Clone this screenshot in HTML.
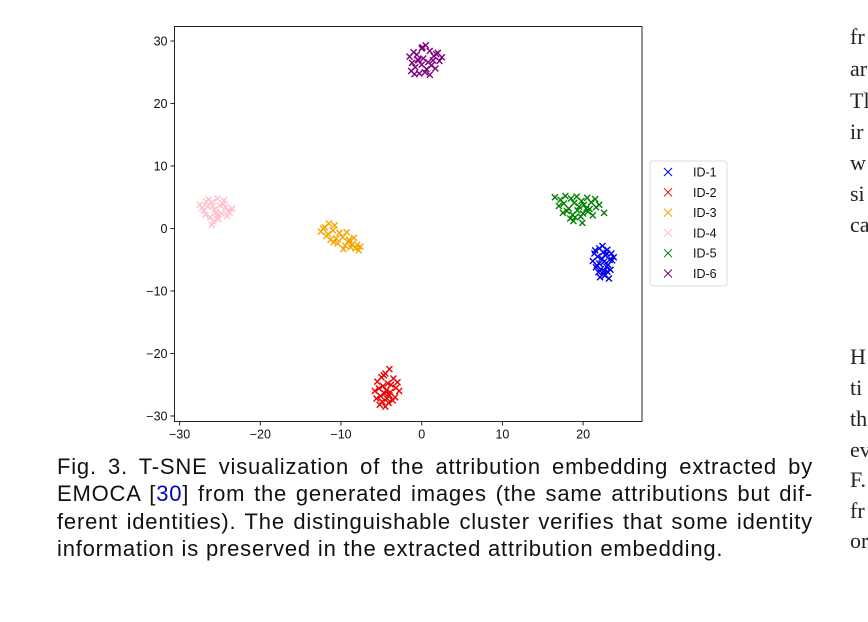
<!DOCTYPE html>
<html><head><meta charset="utf-8"><style>
body{margin:0;width:868px;height:622px;background:#fff;overflow:hidden;position:relative;font-family:"Liberation Sans",sans-serif}
.cap{position:absolute;left:57px;top:453px;width:756px;font-size:22px;letter-spacing:0.8px;line-height:27.3px;color:#111}
.cap div{text-align:justify;text-align-last:justify;white-space:nowrap}
.cap div.last{text-align-last:left}
.side{position:absolute;left:850px;font-family:"Liberation Serif",serif;font-size:22px;color:#222;line-height:22px}
</style></head><body>
<svg id="chart" width="868" height="450" style="position:absolute;left:0;top:0" font-family="Liberation Sans, sans-serif"></svg>
<div class="cap">
<div>Fig. 3. T-SNE visualization of the attribution embedding extracted by</div>
<div>EMOCA [<span style="color:#00c">30</span>] from the generated images (the same attributions but dif-</div>
<div>ferent identities). The distinguishable cluster verifies that some identity</div>
<div class="last">information is preserved in the extracted attribution embedding.</div>
</div>
<div>
<div class="side" style="top:26px">fr</div><div class="side" style="top:58px">ar</div><div class="side" style="top:90px">Tl</div><div class="side" style="top:121px">ir</div><div class="side" style="top:152px">w</div><div class="side" style="top:183px">si</div><div class="side" style="top:214px">ca</div>
<div class="side" style="top:346px">H</div><div class="side" style="top:377px">ti</div><div class="side" style="top:408px">th</div><div class="side" style="top:439px">ev</div><div class="side" style="top:469px">F.</div><div class="side" style="top:500px">fr</div><div class="side" style="top:530px">or</div>
</div>
<script>
const labels=["ID-1","ID-2","ID-3","ID-4","ID-5","ID-6"];
const colors=["#0000ee","#ee0000","#f5a500","#ffc0cb","#008000","#800080"];
const xTicks=[-30,-20,-10,0,10,20];
const yTicks=[30,20,10,0,-10,-20,-30];
const id1X=[21.5,22,22.5,23,23.5,21.8,22.3,22.8,23.3,21.2,22,22.6,23.1,23.6,21.6,22.2,22.9,23.4,21.9,22.5,23,22.1,22.7,23.2,21.4,22.4,23.8,22.6,21.7,22.9];
const id1Y=[-3.5,-3.2,-3.8,-3.4,-4,-4.5,-4.8,-4.3,-5,-5.2,-5.6,-5.3,-5.8,-5.1,-6.2,-6.5,-6.1,-6.6,-7,-7.3,-6.9,-7.8,-7.5,-8,-4,-2.8,-4.6,-6.8,-5.9,-4];
const id2X=[-4,-4.5,-5,-3.5,-5.5,-4.2,-4.8,-3.8,-5.3,-4.4,-3.2,-5.8,-4.6,-3.9,-5.1,-4.3,-2.8,-3.3,-5.6,-4.9,-4.1,-3.6,-5.2,-4.5,-3,-4.7,-4];
const id2Y=[-22.5,-23.2,-23.8,-24,-24.5,-24.8,-25.2,-25,-25.6,-25.9,-25.5,-26,-26.4,-26.2,-26.8,-27.2,-26,-27,-27.2,-27.7,-27.9,-27.5,-28.2,-28.5,-24.6,-23.5,-26.7];
const id3X=[-12.5,-12,-11.5,-11.8,-11,-10.6,-10.2,-10.9,-9.8,-9.5,-9,-8.6,-8.2,-7.8,-8.8,-9.3,-10.4,-11.3,-12.2,-9.7,-8.4,-7.6,-10.8,-9.1,-8,-11.6];
const id3Y=[-0.5,0.2,0.8,-1.2,-0.3,-1.6,-0.7,-2.2,-1.4,-2.7,-1.8,-2.5,-3.2,-3.5,-3,-0.6,-2.4,-1.8,0,-3.3,-1.5,-2.9,0.5,-2.1,-2.6,-0.9];
const id4X=[-27.5,-27,-26.5,-26,-25.5,-25,-24.5,-24,-23.5,-26.8,-26.2,-25.7,-25.2,-24.6,-24.1,-27.2,-26.4,-25.8,-25.3,-24.8,-26.7,-26,-25.4,-23.8,-25.9,-24.3];
const id4Y=[3.8,2.9,3.5,4.2,2.6,3.7,4.5,2.8,3.2,2.2,1.8,3,1.5,3.9,2,3.3,4.6,1.1,4.8,2.4,4.3,0.6,2.1,2.5,3.6,3.4];
const id5X=[16.5,17.2,17.8,18.5,19.2,19.8,20.5,21,21.5,22,17,17.6,18.2,18.9,19.5,20.1,20.8,21.6,22.6,18,18.7,19.3,20,20.6,21.2,17.5,18.4,19,19.7,18.8,19.9,20.4];
const id5Y=[5,4.6,5.2,4.8,5.1,4.4,4.9,4.2,4.7,3.8,3.6,4,3.2,4.1,3.5,3.8,3.1,3.4,2.5,2.8,2.2,2.9,2.4,2.7,2.1,2.5,1.6,1.8,1.9,1.2,0.9,3.2];
const id6X=[-1.5,-1,-0.5,0,0.5,1,1.5,2,2.5,-1.2,-0.6,0.2,0.8,1.4,2.2,-0.8,0,0.6,1.2,1.8,-1.3,-0.3,0.4,1,1.7,-0.9,0.1,-0.4];
const id6Y=[27.5,28.2,27,28.8,29.3,28.4,27.6,28.1,27.4,26.5,27.8,27.2,26.6,26.9,26.8,25.8,26.2,25.5,26.1,27.9,25.2,24.8,25,24.6,25.6,24.7,29,26.9];
const seriesX=[id1X,id2X,id3X,id4X,id5X,id6X];
const seriesY=[id1Y,id2Y,id3Y,id4Y,id5Y,id6Y];
const svg=document.getElementById('chart');const NS='http://www.w3.org/2000/svg';
const L=174.5,R=642,T=26.5,B=421.5;
const sx=v=>421.7+v*8.07, sy=v=>228.5-v*6.25;
function mk(t,a,p){const e=document.createElementNS(NS,t);for(const k in a)e.setAttribute(k,a[k]);(p||svg).appendChild(e);return e;}
const frame=mk('rect',{x:L,y:T,width:R-L,height:B-T,fill:'#fff',stroke:'#222','stroke-width':1});


xTicks.forEach(v=>{const x=sx(v);mk('line',{x1:x,x2:x,y1:B,y2:B+4,stroke:'#222'});
const t=mk('text',{x:x,y:B+17,'font-size':12.5,'text-anchor':'middle',fill:'#111'});t.textContent=(v<0?'\u2212':'')+Math.abs(v);

});
yTicks.forEach(v=>{const y=sy(v);mk('line',{x1:L-4,x2:L,y1:y,y2:y,stroke:'#222'});
const t=mk('text',{x:L-7,y:y+4.5,'font-size':12.5,'text-anchor':'end',fill:'#111'});t.textContent=(v<0?'\u2212':'')+Math.abs(v);

});
function cross(x,y,c,s,g,w){mk('path',{d:`M${x-s} ${y-s}L${x+s} ${y+s}M${x-s} ${y+s}L${x+s} ${y-s}`,stroke:c,'stroke-width':w||1.4},g);}
seriesX.forEach((xs,i)=>{const g=mk('g',{});


xs.forEach((v,j)=>cross(sx(v),sy(seriesY[i][j]),colors[i],3,g));});
const lg=mk('g',{});


mk('rect',{x:650,y:161,width:77,height:125,rx:3,fill:'#fff',stroke:'#ddd'},lg);
labels.forEach((l,i)=>{const y=172+i*20.3;const e=mk('g',{},lg);


cross(668,y,colors[i],4,e,1);const t=mk('text',{x:693,y:y+4.5,'font-size':12.5,fill:'#111'},e);t.textContent=l;});
</script>
</body></html>
